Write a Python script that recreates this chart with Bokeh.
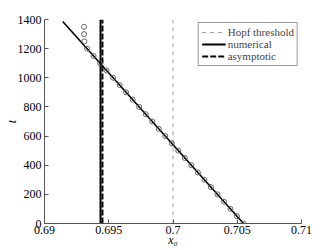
from bokeh.plotting import figure
from bokeh.models import Range1d, FixedTicker, Legend, LegendItem
from bokeh.embed import file_html
from bokeh.resources import INLINE

# ---- data ----
circle_t = [0, 50, 100, 150, 200, 250, 300, 350, 400, 450, 500, 550, 600, 650,
            700, 750, 800, 850, 900, 950, 1000, 1050, 1100, 1150, 1200, 1250, 1300, 1350]
circle_x = [0.70549, 0.70498, 0.70447, 0.70397, 0.70346, 0.70295, 0.70244, 0.70194,
            0.70143, 0.70092, 0.70041, 0.69991, 0.69940, 0.69889, 0.69838, 0.69788,
            0.69737, 0.69686, 0.69635, 0.69585, 0.69534, 0.69483, 0.69432, 0.69382,
            0.69331, 0.69311, 0.69308, 0.69308]
traj_x = [0.69142, 0.70549]
traj_t = [1386, 0]
hopf_x = 0.7
numerical_x = 0.69436
asymptotic_x = 0.69451
t_span = [0, 1400]
x_ticks = [0.69, 0.695, 0.7, 0.705, 0.71]
x_tick_labels = ["0.69", "0.695", "0.7", "0.705", "0.71"]
y_ticks = [0, 200, 400, 600, 800, 1000, 1200, 1400]
y_tick_labels = ["0", "200", "400", "600", "800", "1000", "1200", "1400"]
x_label = "x\u2080"
y_label = "t"

FONT = "Liberation Serif"

p = figure(width=332, height=250, output_backend="svg", toolbar_location=None,
           x_range=Range1d(0.69, 0.71), y_range=Range1d(0, 1400),
           min_border_left=44, min_border_right=31, min_border_top=19, min_border_bottom=27)
p.outline_line_color = None
p.grid.visible = False
p.background_fill_color = "white"
p.border_fill_color = "white"

for ax in (p.xaxis[0], p.yaxis[0]):
    ax.axis_line_color = "#555555"
    ax.major_tick_line_color = "#555555"
    ax.major_tick_in = 4
    ax.major_tick_out = 0
    ax.minor_tick_in = 0
    ax.minor_tick_out = 0
    ax.major_label_text_font = FONT
    ax.major_label_text_font_size = "12px"
    ax.major_label_text_color = "black"
    ax.axis_label_text_font = FONT
    ax.axis_label_text_font_style = "italic"
    ax.axis_label_text_font_size = "12px"
    ax.axis_label_text_color = "black"

p.xaxis[0].ticker = FixedTicker(ticks=x_ticks)
p.xaxis[0].major_label_overrides = dict(zip(x_ticks, x_tick_labels))
p.xaxis[0].major_label_standoff = 2
p.xaxis[0].axis_label = x_label
p.xaxis[0].axis_label_standoff = -4
p.yaxis[0].ticker = FixedTicker(ticks=y_ticks)
p.yaxis[0].major_label_standoff = 3
p.yaxis[0].major_label_overrides = dict(zip(y_ticks, y_tick_labels))
p.yaxis[0].axis_label = y_label
p.yaxis[0].axis_label_standoff = -4

# lines
hopf = p.line([hopf_x, hopf_x], t_span, line_color="#a0a0a0", line_width=1, line_dash="4 4")
num = p.line([numerical_x, numerical_x], t_span, line_color="black", line_width=2)
asy = p.line([asymptotic_x, asymptotic_x], t_span, line_color="black", line_width=2, line_dash="6 2")
p.line(traj_x, traj_t, line_color="black", line_width=1.6)
p.scatter(circle_x, circle_t, marker="circle", size=5, fill_color=None,
          line_color="#555555", line_width=0.9)

legend = Legend(items=[LegendItem(label="Hopf threshold", renderers=[hopf]),
                       LegendItem(label="numerical", renderers=[num]),
                       LegendItem(label="asymptotic", renderers=[asy])],
                location="top_right", margin=3, padding=3, spacing=0,
                label_text_font=FONT, label_text_font_size="11px",
                label_height=12, glyph_height=12, glyph_width=24, label_standoff=2,
                border_line_color="#333333", border_line_width=1,
                background_fill_color="white", background_fill_alpha=1)
p.add_layout(legend)

open("out.html", "w").write(file_html(p, INLINE))
